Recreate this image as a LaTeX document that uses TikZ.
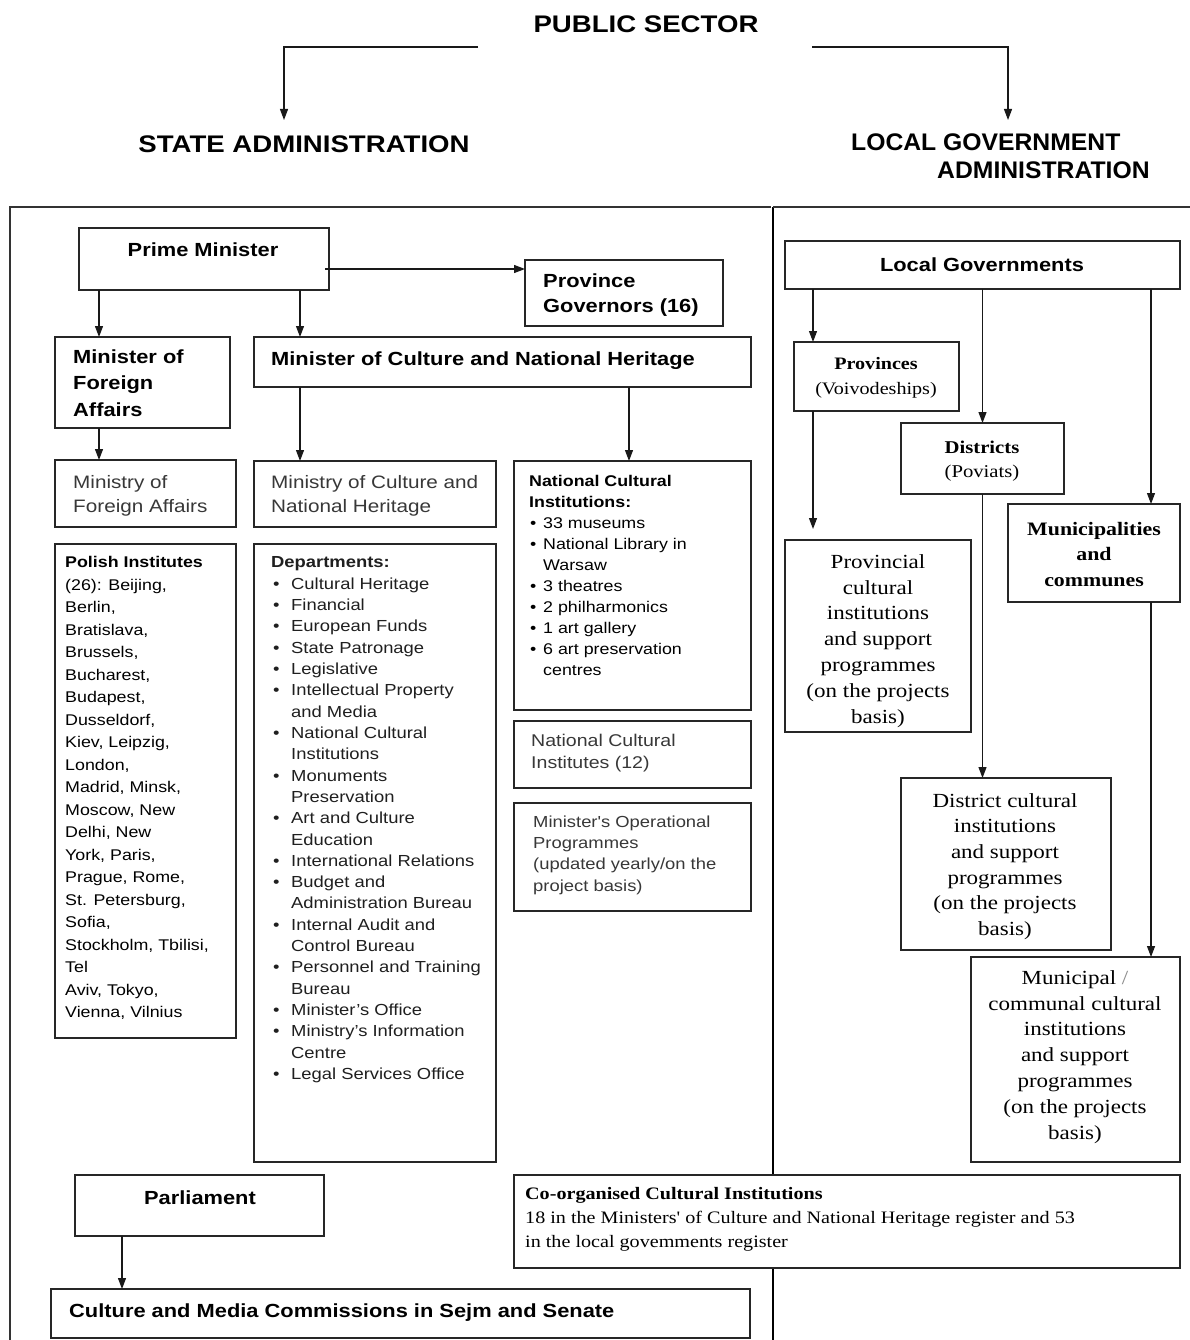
\documentclass[tikz,border=0pt]{standalone}
\usepackage{fontspec}
\setmainfont{Liberation Sans}[FakeStretch=1.15]
\newfontfamily\sansf{Liberation Sans}[FakeStretch=1.15]
\newfontfamily\sansn{Liberation Sans}[FakeStretch=1.03]
\newfontfamily\seriff{Liberation Serif}[FakeStretch=1.15]
\usetikzlibrary{arrows.meta,calc}
\newcommand\fs[2]{\fontsize{#1}{#2}\selectfont}
\newcommand\tp{\rule{0pt}{20pt}}
\newcommand\bi{\hspace*{2pt}\makebox[18pt][l]{\textbullet}}
\newcommand\ci{\hspace*{20pt}}
\newcommand\bn{\hspace*{1pt}\makebox[13pt][l]{\textbullet}}
\newcommand\cn{\hspace*{14pt}}
\begin{document}
\begin{tikzpicture}[x=1pt,y=-1pt,
  bx/.style={draw=black!85, line width=1.2pt, anchor=north west, inner sep=0pt, outer sep=0pt, fill=white},
  arr/.style={line width=1.2pt, draw=black!90, -{Triangle[width=8pt,length=11pt]}},
  ml/.style={inner sep=0pt, anchor=north west, align=left},
  mc/.style={inner sep=0pt, anchor=north, align=center},
  hdr/.style={font=\sansf\bfseries\fs{24}{28}, inner sep=0pt},
  hdrn/.style={font=\sansn\bfseries\fs{24}{28}, inner sep=0pt},
  ttl/.style={font=\sansf\bfseries\fs{19}{26.5}, inner sep=0pt},
  reg/.style={text=black!78}
]
\useasboundingbox (0,0) rectangle (1190,1340);

% headers
\node[hdr, anchor=base] (ps) at (646,33) {PUBLIC SECTOR};
\node[hdr, anchor=base] (sa) at (304,153) {STATE ADMINISTRATION};
\node[hdrn, anchor=base west] (lga1) at (851,151) {LOCAL GOVERNMENT};
\node[hdrn, anchor=base west] (lga2) at (937,179) {ADMINISTRATION};
\coordinate (psL) at (478,47);
\coordinate (saT) at (284,120);
\coordinate (psR) at (812,47);
\coordinate (lgT) at (1008,120);
\draw[arr] (psL) -| (saT);
\draw[arr] (psR) -| (lgT);

% frames
\draw[line width=1.2pt, black!80] (10,1340) -- (10,207) -- (771,207);
\draw[line width=2.8pt] (773,207) -- (773,1340);
\draw[line width=1.2pt, black!80] (773,207) -- (1190,207);

% ---------- state administration ----------
\node[bx, minimum width=250pt, minimum height=62pt] (pm) at (79,228) {};
\node[ttl, anchor=base] (pmT) at (203,257) {Prime Minister};

\node[bx, minimum width=198pt, minimum height=66pt] (pg) at (525,260) {};
\node[ml, font=\sansf\bfseries\fs{19}{25}] (pgT) at (543,267) {\tp Province\\Governors (16)};

\node[bx, minimum width=175pt, minimum height=91pt] (mfa) at (55,337) {};
\node[ml, font=\sansf\bfseries\fs{19}{26.5}] (mfaT) at (73,343) {\tp Minister of\\Foreign\\Affairs};

\node[bx, minimum width=497pt, minimum height=50pt] (mcnh) at (254,337) {};
\node[ttl, anchor=base west] (mcnhT) at (271,365) {Minister of Culture and National Heritage};

\node[bx, minimum width=181pt, minimum height=67pt] (mofa) at (55,460) {};
\node[ml, reg, font=\sansf\fs{18}{24}] (mofaT) at (73,468) {\tp Ministry of\\Foreign Affairs};

\node[bx, minimum width=242pt, minimum height=66pt] (mocnh) at (254,461) {};
\node[ml, reg, font=\sansf\fs{18}{24}] (mocnhT) at (271,468) {\tp Ministry of Culture and\\National Heritage};

\node[bx, minimum width=237pt, minimum height=249pt] (nci) at (514,461) {};
\node[ml, font=\sansf\fs{15.5}{21}] (nciT) at (529,466) {\tp\textbf{National Cultural}\\\textbf{Institutions:}\\
\bn 33 museums\\\bn National Library in\\\cn Warsaw\\\bn 3 theatres\\\bn 2 philharmonics\\\bn 1 art gallery\\\bn 6 art preservation\\\cn centres};

\node[bx, minimum width=237pt, minimum height=67pt] (ncis) at (514,721) {};
\node[ml, reg, font=\sansf\fs{17}{22}] (ncisT) at (531,726) {\tp National Cultural\\Institutes (12)};

\node[bx, minimum width=237pt, minimum height=108pt] (mop) at (514,803) {};
\node[ml, reg, font=\sansf\fs{16}{21.3}] (mopT) at (533,807) {\tp Minister's Operational\\Programmes\\(updated yearly/on the\\project basis)};

\node[bx, minimum width=181pt, minimum height=494pt] (pi) at (55,544) {};
\node[ml, font=\sansf\fs{15.5}{22.5}] (piT) at (65,547.5) {\tp\textbf{Polish Institutes}\\(26): Beijing,\\Berlin,\\Bratislava,\\Brussels,\\Bucharest,\\Budapest,\\Dusseldorf,\\Kiev, Leipzig,\\London,\\Madrid, Minsk,\\Moscow, New\\Delhi, New\\York, Paris,\\Prague, Rome,\\St. Petersburg,\\Sofia,\\Stockholm, Tbilisi,\\Tel\\Aviv, Tokyo,\\Vienna, Vilnius};

\node[bx, minimum width=242pt, minimum height=618pt] (dep) at (254,544) {};
\node[ml, text=black!88, font=\sansf\fs{16}{21.33}] (depT) at (271,547.5) {\tp\textbf{Departments:}\\
\bi Cultural Heritage\\\bi Financial\\\bi European Funds\\\bi State Patronage\\\bi Legislative\\
\bi Intellectual Property\\\ci and Media\\\bi National Cultural\\\ci Institutions\\
\bi Monuments\\\ci Preservation\\\bi Art and Culture\\\ci Education\\\bi International Relations\\
\bi Budget and\\\ci Administration Bureau\\\bi Internal Audit and\\\ci Control Bureau\\
\bi Personnel and Training\\\ci Bureau\\\bi Minister’s Office\\\bi Ministry’s Information\\\ci Centre\\\bi Legal Services Office};

\node[bx, minimum width=249pt, minimum height=61pt] (parl) at (75,1175) {};
\node[ttl, anchor=base] (parlT) at (200,1204) {Parliament};

\node[bx, minimum width=699pt, minimum height=49pt] (cmc) at (51,1289) {};
\node[ttl, anchor=base west] (cmcT) at (69,1317) {Culture and Media Commissions in Sejm and Senate};

\node[bx, minimum width=666pt, minimum height=93pt] (co) at (514,1175) {};
\node[ml, font=\seriff\fs{17.5}{24}] (coT) at (525,1179) {\tp\textbf{Co-organised Cultural Institutions}\\18 in the Ministers' of Culture and National Heritage register and 53\\in the local govemments register};

% arrows state
\coordinate (a1) at ($(pm.east)+(-4,10)$);
\draw[arr] (a1) -- (a1 -| pg.west);
\draw[arr] ($(pm.south west)+(20,0)$) coordinate (t1) -- (t1 |- mfa.north);
\draw[arr] ($(pm.south west)+(221,0)$) coordinate (t2) -- (t2 |- mcnh.north);
\draw[arr] (t1 |- mfa.south) -- (t1 |- mofa.north);
\draw[arr] (t2 |- mcnh.south) -- (t2 |- mocnh.north);
\draw[arr] ($(mcnh.south west)+(375,0)$) coordinate (t7) -- (t7 |- nci.north);
\draw[arr] ($(parl.south west)+(47,0)$) coordinate (t3) -- (t3 |- cmc.north);

% ---------- local government ----------
\node[bx, minimum width=395pt, minimum height=48pt] (lg) at (785,241) {};
\node[ttl, anchor=base] (lgT) at (982,272) {Local Governments};

\node[bx, minimum width=165pt, minimum height=69pt] (prov) at (794,342) {};
\node[mc, font=\seriff\fs{17.5}{25}] (provT) at (876,349) {\tp\textbf{Provinces}\\(Voivodeships)};

\node[bx, minimum width=163pt, minimum height=71pt] (dist) at (901,423) {};
\node[mc, font=\seriff\fs{18}{24}] (distT) at (982,433) {\tp\textbf{Districts}\\(Poviats)};

\node[bx, minimum width=172pt, minimum height=98pt] (mun) at (1008,504) {};
\node[mc, font=\seriff\bfseries\fs{19}{25.5}] (munT) at (1094,515) {\tp Municipalities\\and\\communes};

\node[bx, minimum width=186pt, minimum height=192pt] (pci) at (785,540) {};
\node[mc, font=\seriff\fs{20}{25.8}] (pciT) at (878,548) {\tp Provincial\\cultural\\institutions\\and support\\programmes\\(on the projects\\basis)};

\node[bx, minimum width=210pt, minimum height=172pt] (dci) at (901,778) {};
\node[mc, font=\seriff\fs{20}{25.6}] (dciT) at (1005,787) {\tp District cultural\\institutions\\and support\\programmes\\(on the projects\\basis)};

\node[bx, minimum width=209pt, minimum height=205pt] (mci) at (971,957) {};
\node[mc, font=\seriff\fs{20}{25.8}] (mciT) at (1075,964) {\tp Municipal {\color{black!45}/}\\communal cultural\\institutions\\and support\\programmes\\(on the projects\\basis)};

% arrows local
\draw[arr] ($(lg.south west)+(28,0)$) coordinate (t4) -- (t4 |- prov.north);
\draw[arr] (lg.south -| dist.north) -- (dist.north);
\draw[arr] ($(lg.south west)+(366,0)$) coordinate (t6) -- (t6 |- mun.north);
\draw[arr, shorten >=11pt] (t4 |- prov.south) -- (t4 |- pci.north);
\draw[arr] (dist.south) -- (dist.south |- dci.north);
\draw[arr] (t6 |- mun.south) -- (t6 |- mci.north);
\end{tikzpicture}
\end{document}
